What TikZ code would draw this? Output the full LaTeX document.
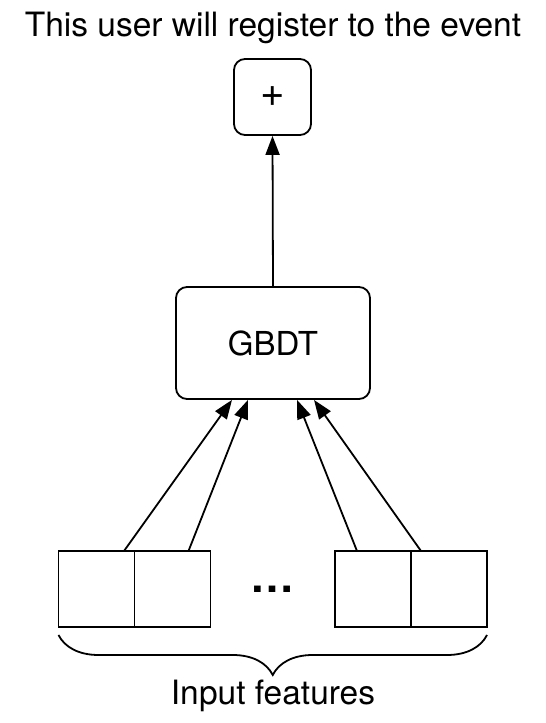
\documentclass[tikz,border=0pt]{standalone}
\usepackage{fontspec}
\setmainfont{TeX Gyre Heros}
\usepackage{tikz}
\usetikzlibrary{calc}
\usetikzlibrary{positioning}
\usetikzlibrary{arrows.meta}
\usetikzlibrary{decorations.pathreplacing}

\begin{document}
\begin{tikzpicture}[x=1pt,y=1pt]
		\pgfmathsetmacro{\W}{76}
		\tikzstyle{box}=[draw, rounded corners=11pt, line width=1.8pt, font=\fontsize{33}{38}\selectfont]
		\tikzstyle{feature}=[draw, line width=1.8pt, minimum width=\W pt, minimum height=\W pt, inner sep=0pt, outer sep=0pt]
		\tikzstyle{edge}=[draw, line width=1.8pt, -{Triangle[length=19pt,width=14pt]}, black]
		\tikzstyle{label}=[font=\fontsize{33.5}{38}\selectfont, inner sep=0pt]
		\useasboundingbox (0,0) rectangle (546,723);

		\node[label, anchor=base] (title) at (273,686) {This user will register to the event};
		\node[box, minimum width=77pt, minimum height=76pt, font=\fontsize{42}{46}\selectfont] (plus) at (272.5,626) {+};
		\node[box, minimum width=194pt, minimum height=112pt] (gbdt) at (273,380) {GBDT};

		\node[feature] (f1) at (96.5,134) {};
		\node[feature, right=0pt of f1] (f2) {};
		\node[feature] (f4) at (449,134) {};
		\node[feature, left=0pt of f4] (f3) {};
		\node[label, font=\fontsize{44}{48}\bfseries] (dots) at (272,134) {\ldots};

		\draw[decorate, decoration={brace, mirror, amplitude=40pt}, line width=1.8pt]
			($(f1.south west)+(0,-8)$) -- ($(f4.south east)+(0,-8)$);
		\node[label, anchor=base] (input) at (273,18) {Input features};

		\draw[edge] (gbdt.north) -- (plus.south);
		\draw[edge] ([xshift=27.5pt]f1.north) -- ([xshift=-41pt]gbdt.south);
		\draw[edge] ([xshift=16pt]f2.north) -- ([xshift=-25pt]gbdt.south);
		\draw[edge] ([xshift=-16pt]f3.north) -- ([xshift=24pt]gbdt.south);
		\draw[edge] ([xshift=-28pt]f4.north) -- ([xshift=41pt]gbdt.south);
\end{tikzpicture}
\end{document}
